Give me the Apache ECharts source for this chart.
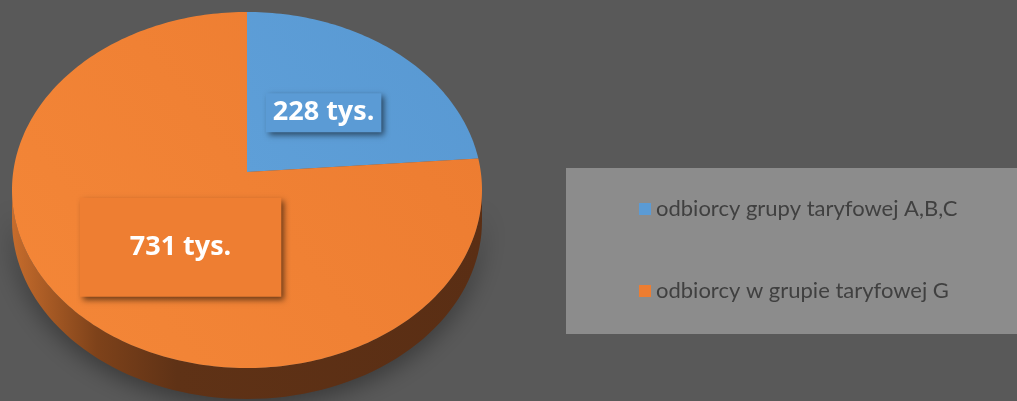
<!DOCTYPE html>
<html><head><meta charset="utf-8">
<script src="https://cdn.jsdelivr.net/npm/echarts@6/dist/echarts.min.js"></script>
<style>html,body{margin:0;padding:0;background:#595959}#c{width:1017px;height:401px}</style>
</head><body><div id="c"></div>
<script>
// ---- data ----
const categories = ['odbiorcy grupy taryfowej A,B,C', 'odbiorcy w grupie taryfowej G'];
const values = [228, 731];
const valueLabels = ['228 tys.', '731 tys.'];

// ---- styles ----
const faceColors = [
  new echarts.graphic.LinearGradient(0, 1, 1, 0, [{offset:0,color:'#5e9fd8'},{offset:1,color:'#5898d2'}]),
  new echarts.graphic.LinearGradient(0, 1, 1, 0, [{offset:0,color:'#f48738'},{offset:1,color:'#ec7b30'}])
];
const legendColors = ['#5b9bd5', '#ed7d31'];
const labelBg = ['#5b9bd5', '#ee7e32'];
const labelPad = [[6, 7], [36, 50]];
const labelShift = [[0, 3], [16, 8]];
const geo = {cx: 247, cy: 172, A: 233.8, B: 176.2, k: 0.101, depth: 31};

function proj(r, phi) {
  const u = r * Math.sin(phi), v = r * Math.cos(phi);
  const d = 1 + geo.k * v;
  return [geo.cx + geo.A * u / d, geo.cy - geo.B * v / d];
}
const total = values.reduce((a, b) => a + b, 0);
const FRONT0 = Math.PI / 2 + Math.asin(geo.k), FRONT1 = 3 * Math.PI / 2 - Math.asin(geo.k);

function renderItem(params, api) {
  const i = params.dataIndex;
  let before = 0;
  for (let j = 0; j < i; j++) before += values[j];
  const val = api.value(0);
  const a0 = before / total * 2 * Math.PI;
  const a1 = (before + val) / total * 2 * Math.PI;
  const children = [];
  // side
  const s0 = Math.max(a0, FRONT0), s1 = Math.min(a1, FRONT1);
  if (s1 > s0) {
    const top = [], bot = [];
    const n = 80;
    for (let t = 0; t <= n; t++) {
      const p = proj(1, s0 + (s1 - s0) * t / n);
      top.push(p);
      bot.push([p[0], p[1] + geo.depth]);
    }
    children.push({
      type: 'polygon', z2: 0,
      shape: {points: top.concat(bot.reverse())},
      style: {
        fill: new echarts.graphic.LinearGradient(0, 0, 1, 0, [
          {offset: 0, color: '#c66c2c'}, {offset: 0.18, color: '#7e421a'},
          {offset: 0.35, color: '#5f3216'}, {offset: 1, color: '#5a2e14'}]),
        shadowBlur: 24, shadowColor: 'rgba(0,0,0,0.4)', shadowOffsetY: 6
      }
    });
  }
  // face
  const pts = [[geo.cx, geo.cy]];
  const n = Math.max(4, Math.ceil((a1 - a0) / 0.02));
  for (let t = 0; t <= n; t++) pts.push(proj(1, a0 + (a1 - a0) * t / n));
  children.push({type: 'polygon', z2: 10, shape: {points: pts}, style: {fill: faceColors[i]}});
  // label
  const lp = proj(0.5, (a0 + a1) / 2);
  children.push({
    type: 'text', z2: 20,
    x: lp[0] + labelShift[i][0], y: lp[1] + labelShift[i][1],
    style: {
      text: valueLabels[i], fill: '#ffffff',
      font: 'bold 27px "Open Sans", sans-serif',
      align: 'center', verticalAlign: 'middle',
      backgroundColor: labelBg[i], padding: labelPad[i],
      shadowBlur: 6, shadowColor: 'rgba(0,0,0,0.55)', shadowOffsetX: 3, shadowOffsetY: 3
    }
  });
  return {type: 'group', children: children};
}

const chart = echarts.init(document.getElementById('c'));
chart.setOption({
  backgroundColor: '#595959',
  animation: false,
  graphic: [{type: 'rect', left: 566, top: 168, z: 0, shape: {width: 460, height: 166}, style: {fill: '#8c8c8c'}}],
  legend: {
    orient: 'vertical', left: 634, top: 193, itemGap: 60,
    itemWidth: 12, itemHeight: 12, icon: 'rect',
    data: categories,
    textStyle: {color: '#404040', fontSize: 22, fontFamily: 'Lato, sans-serif'}
  },
  series: [
    {
      type: 'pie', silent: true, radius: 1, center: [-200, -200],
      label: {show: false}, labelLine: {show: false},
      data: categories.map((c, i) => ({name: c, value: values[i], itemStyle: {color: legendColors[i]}}))
    },
    {
      type: 'custom', coordinateSystem: 'none', renderItem: renderItem,
      data: values.map(v => [v])
    }
  ]
});
</script></body></html>
